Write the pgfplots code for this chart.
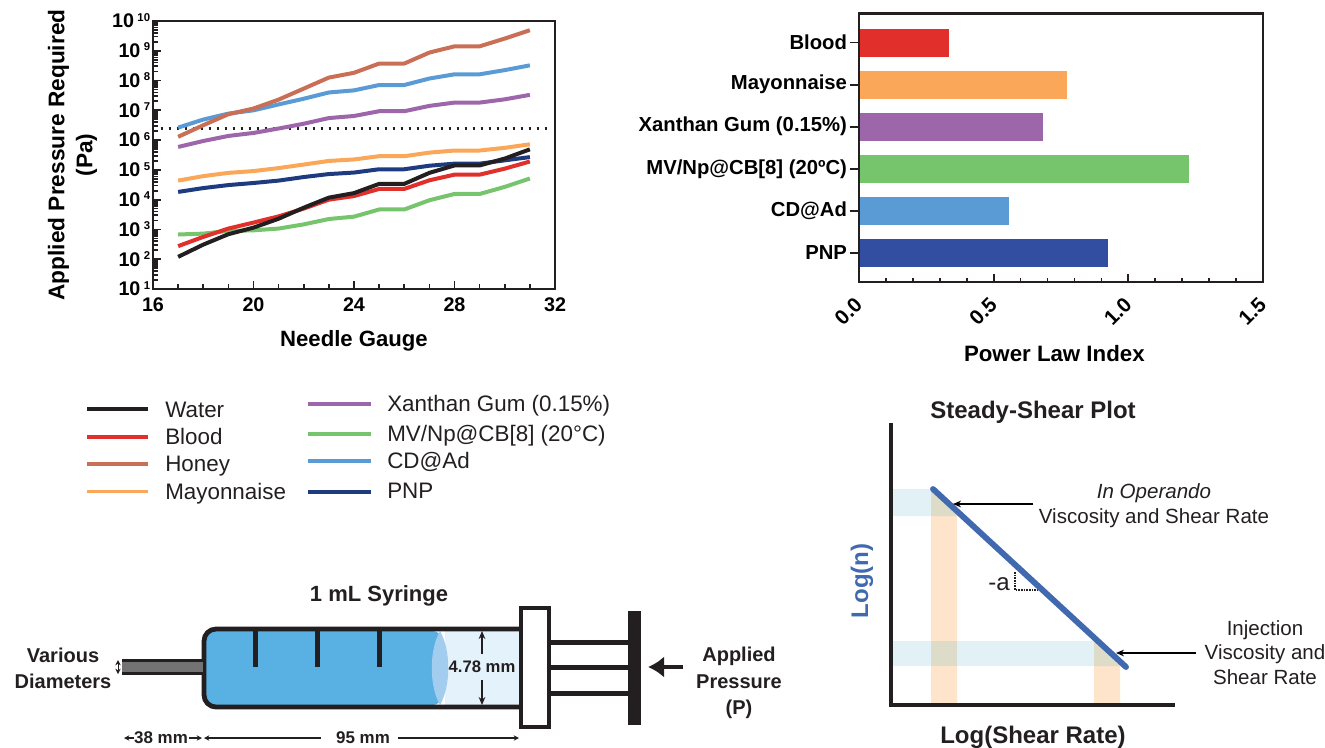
\documentclass[border=0pt]{standalone}
\usepackage{pgfplots}
\pgfplotsset{compat=1.18}
\usepackage{fontspec}
\setmainfont{Liberation Sans}
\usetikzlibrary{arrows.meta}
\newcommand{\fs}[1]{\fontsize{#1}{#1}\selectfont}
\newcommand{\ex}[1]{\,\raisebox{5pt}[0pt][0pt]{\fs{8.5pt}#1}}
\definecolor{cwater}{HTML}{231F20}
\definecolor{cblood}{HTML}{E1302C}
\definecolor{choney}{HTML}{C96F55}
\definecolor{cmayo}{HTML}{FBA75A}
\definecolor{cxan}{HTML}{9E66AA}
\definecolor{cmv}{HTML}{76C46C}
\definecolor{ccd}{HTML}{5B9BD5}
\definecolor{cpnp}{HTML}{1F3B80}
\definecolor{cpnpbar}{HTML}{324EA0}
\definecolor{dk}{HTML}{231F20}
\definecolor{bandb}{HTML}{E1F1F6}
\definecolor{bando}{HTML}{FDE4CB}
\definecolor{bandm}{HTML}{DDDCC8}
\definecolor{lineb}{HTML}{4169B0}
\definecolor{sblue}{HTML}{58B0E3}
\definecolor{slight}{HTML}{E3F2FB}
\definecolor{sell}{HTML}{A2CDEF}
\pgfplotstableread{
g water blood honey mayo xan mv cd pnp
17 1.20e2 2.75e2 1.29e6 4.37e4 5.89e5 6.76e2 2.63e6 1.82e4
18 3.09e2 5.62e2 3.16e6 6.17e4 9.33e5 7.24e2 4.90e6 2.45e4
19 6.92e2 1.07e3 7.41e6 7.94e4 1.38e6 8.91e2 7.76e6 3.09e4
20 1.15e3 1.70e3 1.15e7 9.12e4 1.74e6 9.33e2 1.00e7 3.63e4
21 2.29e3 2.75e3 2.29e7 1.15e5 2.45e6 1.07e3 1.58e7 4.37e4
22 5.37e3 5.01e3 5.37e7 1.51e5 3.55e6 1.48e3 2.45e7 5.75e4
23 1.17e4 1.00e4 1.26e8 2.00e5 5.50e6 2.24e3 3.98e7 7.24e4
24 1.66e4 1.32e4 1.82e8 2.24e5 6.46e6 2.69e3 4.68e7 8.13e4
25 3.39e4 2.29e4 3.72e8 2.88e5 9.33e6 4.68e3 7.08e7 1.05e5
26 3.39e4 2.29e4 3.72e8 2.88e5 9.33e6 4.68e3 7.08e7 1.05e5
27 7.94e4 4.47e4 8.71e8 3.80e5 1.41e7 9.55e3 1.17e8 1.38e5
28 1.41e5 6.92e4 1.41e9 4.47e5 1.82e7 1.55e4 1.62e8 1.62e5
29 1.41e5 6.92e4 1.41e9 4.47e5 1.82e7 1.55e4 1.62e8 1.62e5
30 2.40e5 1.10e5 2.57e9 5.50e5 2.34e7 2.69e4 2.24e8 2.09e5
31 4.90e5 1.91e5 4.90e9 7.24e5 3.31e7 5.13e4 3.24e8 2.69e5
}\linedata
\begin{document}
\begin{tikzpicture}
\useasboundingbox (0,0) rectangle (993.75pt,560.25pt);
% ---------- line chart
\begin{axis}[at={(114.75pt,343.5pt)},anchor=south west,scale only axis,width=301.5pt,height=201pt,
  xmin=16,xmax=32,ymode=log,ymin=1e1,ymax=1e10,axis on top,
  xtick={16,20,24,28,32},xticklabels={16,20,24,28,32},minor xtick={17,18,19,21,22,23,25,26,27,29,30,31},
  ytick={1e1,1e2,1e3,1e4,1e5,1e6,1e7,1e8,1e9,1e10},
  yticklabels={10\ex{1},10\ex{2},10\ex{3},10\ex{4},10\ex{5},10\ex{6},10\ex{7},10\ex{8},10\ex{9},10\ex{10}},
  tick pos=left,tick align=inside,
  major tick length=6pt,minor tick length=3.5pt,
  every major tick/.append style={dk,line width=1.4pt},
  every minor tick/.append style={dk,line width=1.3pt},
  axis line style={dk,line width=2pt},
  tick label style={font=\fs{14.8pt}\bfseries},
  xticklabel style={yshift=-3pt},yticklabel style={inner xsep=2pt},
  xlabel={Needle Gauge},xlabel style={font=\fs{16.6pt}\bfseries,yshift=-7pt},
  ylabel={Applied Pressure Required\\[4pt](Pa)},ylabel style={font=\fs{17pt}\bfseries,align=center,yshift=5.75pt},
  every axis plot/.append style={line width=3pt,line join=round},
  clip=false]
\addplot[dk,line width=1.8pt,dash pattern=on 1.8pt off 4.2pt] coordinates {(16.3,2.45e6) (31.7,2.45e6)};
\addplot[cmv] table[x=g,y=mv]{\linedata};
\addplot[cpnp] table[x=g,y=pnp]{\linedata};
\addplot[cmayo] table[x=g,y=mayo]{\linedata};
\addplot[cblood] table[x=g,y=blood]{\linedata};
\addplot[cwater] table[x=g,y=water]{\linedata};
\addplot[cxan] table[x=g,y=xan]{\linedata};
\addplot[ccd] table[x=g,y=cd]{\linedata};
\addplot[choney] table[x=g,y=honey]{\linedata};
\end{axis}
% ---------- bar chart
\begin{axis}[at={(644.25pt,348.75pt)},anchor=south west,scale only axis,width=303pt,height=201.4pt,
  xmin=0,xmax=1.5,ymin=0.31,ymax=6.69,y dir=reverse,
  xtick={0,0.5,1,1.5},xticklabels={0.0,0.5,1.0,1.5},
  minor xtick={0.1,0.2,0.3,0.4,0.6,0.7,0.8,0.9,1.1,1.2,1.3,1.4},
  ytick={1,2,3,4,5,6},
  yticklabels={Blood,Mayonnaise,Xanthan Gum (0.15\%),MV/Np@CB[8] (20ºC),CD@Ad,PNP},
  tick pos=left,tick align=inside,
  major tick length=6pt,minor tick length=3pt,
  every major tick/.append style={dk,line width=1.4pt},
  every minor tick/.append style={dk,line width=1.3pt},
  major y tick style={xshift=-1pt},
  axis line style={dk,line width=2pt},
  yticklabel style={font=\fs{15.2pt}\bfseries,xshift=0.5pt},
  xticklabel style={font=\fs{15.5pt}\bfseries,rotate=45,anchor=north east,xshift=-7pt,yshift=-1pt},
  xlabel={Power Law Index},xlabel style={font=\fs{16.7pt}\bfseries,xshift=-5pt,yshift=-6pt},
  xbar,bar width=21pt,
  axis on top]
\addplot[bar shift=0pt,draw=none,fill=cblood] coordinates {(0.333,1)};
\addplot[bar shift=0pt,draw=none,fill=cmayo] coordinates {(0.773,2)};
\addplot[bar shift=0pt,draw=none,fill=cxan] coordinates {(0.683,3)};
\addplot[bar shift=0pt,draw=none,fill=cmv] coordinates {(1.225,4)};
\addplot[bar shift=0pt,draw=none,fill=ccd] coordinates {(0.557,5)};
\addplot[bar shift=0pt,draw=none,fill=cpnpbar] coordinates {(0.923,6)};
\end{axis}
% ---------- canvas in pixel coordinates
\begin{axis}[at={(0,0)},anchor=south west,scale only axis,width=993.75pt,height=560.25pt,
  xmin=0,xmax=1325,ymin=0,ymax=747,y dir=reverse,hide axis,clip=false]
% legend
\addplot[cwater,line width=2.8pt] coordinates {(87,409) (148,409)};
\addplot[cblood,line width=2.8pt] coordinates {(87,437) (148,437)};
\addplot[choney,line width=2.8pt] coordinates {(87,464) (148,464)};
\addplot[cmayo,line width=2.8pt] coordinates {(87,491.5) (148,491.5)};
\addplot[cxan,line width=2.8pt] coordinates {(308,404) (371,404)};
\addplot[cmv,line width=2.8pt] coordinates {(308,434) (371,434)};
\addplot[ccd,line width=2.8pt] coordinates {(308,461) (371,461)};
\addplot[cpnp,line width=2.8pt] coordinates {(308,491.7) (371,491.7)};
\begin{scope}[every node/.style={font=\fs{16.8pt},anchor=base west,inner sep=0pt,text=dk}]
\node at (165,417) {Water};
\node at (165,444) {Blood};
\node at (165,471) {Honey};
\node at (165,499) {Mayonnaise};
\node at (387,411) {Xanthan Gum (0.15\%)};
\node at (387,441) {MV/Np@CB[8] (20°C)};
\node at (387,468) {CD@Ad};
\node at (387,498) {PNP};
\end{scope}
% syringe
\fill[slight] (445,631) rectangle (519,705);
\fill[sblue,rounded corners=6pt] (206,631) rectangle (441,705);
\fill[sell] (440,631) .. controls (429,650) and (429,686) .. (440,705) .. controls (451,686) and (451,650) .. (440,631);
\draw[dk,line width=3.6pt,rounded corners=9pt] (519,629)--(204,629)--(204,707)--(519,707);
\fill[dk] (252.5,630) rectangle (257.5,667);
\fill[dk] (314.5,630) rectangle (319.5,667);
\fill[dk] (376.5,630) rectangle (381.5,667);
\fill[gray!90!black] (122,660) rectangle (203,674);
\draw[dk,line width=2pt] (122,660.5)--(203,660.5) (122,673.5)--(203,673.5);
\fill[dk] (550,640) rectangle (630,645);
\fill[dk] (550,665) rectangle (630,670);
\fill[dk] (550,691) rectangle (630,696);
\fill[dk] (628,611) rectangle (641,725);
\draw[dk,line width=3.6pt,fill=white] (521,608) rectangle (549,727);
\draw[-{Stealth[length=6pt,width=5pt]},dk,line width=0.9pt] (482,654)--(482,631);
\draw[-{Stealth[length=6pt,width=5pt]},dk,line width=0.9pt] (482,680)--(482,705);
\draw[{Stealth[length=4pt,width=4pt]}-{Stealth[length=4pt,width=4pt]},dk,line width=0.7pt] (118,660)--(118,674);
\draw[-{Latex[length=12pt,width=16pt]},dk,line width=3.6pt] (683,667)--(648,667);
\begin{scope}[every node/.style={font=\fs{15pt}\bfseries,inner sep=0pt,text=dk,anchor=base}]
\node at (379,601) {\fs{16.5pt}1 mL Syringe};
\node at (63,662) {Various};
\node at (63,688) {Diameters};
\node at (739,661) {Applied};
\node at (739,688) {Pressure};
\node at (739,714) {(P)};
\node at (482,672) {\fs{12.5pt}4.78 mm};
\node at (161,743) {\fs{12.7pt}38 mm};
\node at (363,743) {\fs{12.7pt}95 mm};
\end{scope}
\draw[{Stealth[length=4pt,width=4pt]}-,dk,line width=0.8pt] (124,738)--(134,738);
\draw[-{Stealth[length=4pt,width=4pt]},dk,line width=0.8pt] (189,738)--(202,738);
\draw[{Stealth[length=4pt,width=4pt]}-,dk,line width=0.8pt] (204,738)--(321,738);
\draw[-{Stealth[length=4pt,width=4pt]},dk,line width=0.8pt] (398,738)--(519,738);
% steady shear
\fill[bandb] (892,489)--(933,489)--(957,516)--(892,516)--cycle;
\fill[bandb] (892,641)--(1096,641)--(1120,666)--(892,666)--cycle;
\fill[bando] (931,489)--(933,489)--(957,516)--(957,704)--(931,704)--cycle;
\fill[bando] (1094,641)--(1096,641)--(1120,666)--(1120,704)--(1094,704)--cycle;
\fill[bandm] (931,489)--(933,489)--(957,516)--(931,516)--cycle;
\fill[bandm] (931,641) rectangle (957,666);
\fill[bandm] (1094,641)--(1096,641)--(1120,666)--(1094,666)--cycle;
\draw[dk,line width=2.6pt] (891,423)--(891,705)--(1175,705);
\draw[dk,dash pattern=on 1.2pt off 0.8pt,line width=0.8pt] (1015,572)--(1015,590)--(1038,590);
\addplot[lineb,line width=4.4pt,line cap=round] coordinates {(933,489) (1126,667)};
\draw[-{Stealth[length=6pt,width=5pt]},black,line width=1pt] (1033,504)--(953,504);
\draw[-{Stealth[length=6pt,width=5pt]},black,line width=1pt] (1196,653)--(1116,653);
\begin{scope}[every node/.style={font=\fs{15.4pt},inner sep=0pt,text=dk,anchor=base}]
\node at (1154,498) {\itshape In Operando};
\node at (1154,523) {Viscosity and Shear Rate};
\node at (1265,635) {Injection};
\node at (1265,659) {Viscosity and};
\node at (1265,684) {Shear Rate};
\node[font=\fs{18pt}] at (999,590) {-a};
\node[font=\fs{18pt}\bfseries] at (1033,418) {Steady-Shear Plot};
\node[font=\fs{18pt}\bfseries] at (1033,743) {Log(Shear Rate)};
\node[font=\fs{18pt}\bfseries,text=lineb,rotate=90] at (868,581) {Log(n)};
\end{scope}
\end{axis}
\end{tikzpicture}
\end{document}
